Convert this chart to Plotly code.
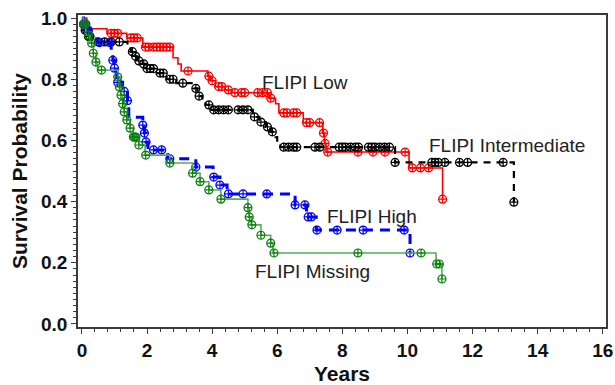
import numpy as np
import plotly.graph_objects as go

# ---------------- data ----------------
low_times = [0, 0.15, 0.77, 1.38, 1.87, 2.8, 2.95, 3.05, 3.87, 3.95, 4.1, 4.4, 4.6,
             5.75, 5.95, 6.05, 6.8, 7.4, 7.45, 7.5, 10.05, 11.08]
low_surv = [1.0, 0.965, 0.95, 0.935, 0.905, 0.87, 0.85, 0.827, 0.81, 0.795, 0.776, 0.765, 0.756,
            0.738, 0.72, 0.69, 0.658, 0.624, 0.59, 0.562, 0.51, 0.408]
low_cens = [0.9, 1.0, 1.1, 1.5, 1.6, 1.7, 1.95, 2.05, 2.2, 2.3, 2.4, 2.5, 2.6, 2.7, 3.26,
            3.9, 4.0, 4.2, 4.3, 4.5, 4.7, 4.9, 5.0, 5.4, 5.55, 5.7, 5.8, 6.2, 6.3, 6.5, 6.6,
            6.9, 7.0, 7.3, 7.42, 7.47, 7.55, 8.48, 8.94, 9.31, 9.93, 10.15, 10.4, 10.65, 11.08]

int_times = [0, 0.05, 0.1, 0.2, 0.3, 1.4, 1.5, 1.6, 1.7, 1.8, 2.0, 2.3, 2.6, 2.9, 3.45, 3.55,
             3.7, 3.8, 4.0, 5.25, 5.45, 5.65, 5.8, 5.95, 6.0, 6.1, 9.62, 13.27]
int_surv = [1.0, 0.98, 0.96, 0.94, 0.922, 0.905, 0.89, 0.875, 0.86, 0.85, 0.835, 0.82, 0.80,
            0.787, 0.77, 0.745, 0.73, 0.716, 0.70, 0.677, 0.66, 0.644, 0.628, 0.611, 0.595,
            0.578, 0.528, 0.398]
int_cens = [0.05, 0.1, 0.15, 0.2, 0.25, 0.5, 0.7, 0.9, 1.15, 1.55, 1.65, 1.75, 1.9, 2.0, 2.1,
            2.2, 2.4, 2.5, 2.7, 2.8, 3.1, 3.5, 3.6, 3.9, 4.05, 4.2, 4.35, 4.5, 4.8, 4.95, 5.1,
            5.3, 5.5, 5.7, 5.85, 6.2, 6.35, 6.5, 6.6, 7.16, 7.31, 7.9, 8.0, 8.1, 8.25, 8.4,
            8.5, 8.8, 8.9, 9.0, 9.15, 9.3, 9.45, 9.62, 10.75, 10.85, 10.95, 11.15, 11.6,
            11.85, 12.94, 13.27]

high_times = [0, 0.05, 0.15, 0.25, 0.45, 0.9, 0.95, 1.0, 1.07, 1.25, 1.4, 1.44, 1.87, 1.92,
              1.97, 2.03, 2.64, 3.5, 4.03, 4.24, 4.46, 6.55, 6.9, 7.2, 10.08]
high_surv = [1.0, 0.98, 0.96, 0.944, 0.92, 0.89, 0.862, 0.836, 0.79, 0.76, 0.73, 0.676, 0.65,
             0.624, 0.595, 0.569, 0.54, 0.513, 0.48, 0.454, 0.425, 0.389, 0.35, 0.307, 0.232]
high_cens = [0.05, 0.12, 0.2, 0.55, 0.85, 0.95, 1.0, 1.1, 1.3, 1.4, 1.87, 1.92, 1.97, 2.2,
             2.45, 2.7, 3.5, 4.05, 4.24, 4.5, 4.95, 5.68, 6.55, 6.85, 6.95, 7.05, 7.22, 7.84,
             8.64, 9.9, 10.08]

miss_times = [0, 0.05, 0.12, 0.25, 0.35, 0.43, 0.48, 1.1, 1.15, 1.2, 1.25, 1.3, 1.38, 1.48,
              1.58, 1.75, 1.94, 2.7, 3.4, 3.63, 3.9, 4.27, 5.1, 5.14, 5.2, 5.5, 5.8, 5.87,
              10.88, 11.06]
miss_surv = [1.0, 0.98, 0.944, 0.918, 0.885, 0.856, 0.83, 0.807, 0.775, 0.748, 0.72, 0.693,
             0.667, 0.64, 0.611, 0.585, 0.552, 0.526, 0.493, 0.465, 0.438, 0.408, 0.38, 0.35,
             0.324, 0.29, 0.264, 0.232, 0.196, 0.147]
miss_cens = [0.05, 0.1, 0.2, 0.3, 0.35, 0.43, 0.6, 1.1, 1.15, 1.2, 1.25, 1.3, 1.38, 1.48,
             1.58, 1.62, 1.66, 1.75, 1.96, 2.7, 3.4, 3.63, 3.9, 4.27, 5.1, 5.14, 5.22, 5.5,
             5.8, 5.9, 8.48, 10.42, 10.9, 10.98, 11.06]

labels = ["FLIPI Low", "FLIPI Intermediate", "FLIPI High", "FLIPI Missing"]
label_x = [6.85, 13.06, 8.9, 7.07]
label_y = [0.79, 0.585, 0.35, 0.17]

x_ticks = [0, 2, 4, 6, 8, 10, 12, 14, 16]
y_ticks = [0.0, 0.2, 0.4, 0.6, 0.8, 1.0]

# ---------------- figure ----------------
groups = [
    (low_times, low_surv, low_cens, "#ff0000", "#ff0000", "solid", 1.6),
    (int_times, int_surv, int_cens, "#000000", "#000000", "7px,6px", 2.2),
    (high_times, high_surv, high_cens, "#0000ff", "#0000ff", "10px,7px", 3),
    (miss_times, miss_surv, miss_cens, "#5aac5a", "#0a800a", "solid", 1.6),
]

FONT = "Liberation Sans, Arial"

fig = go.Figure()
for times, surv, cens, lcol, mcol, dash, w in groups:
    t = np.array(times, dtype=float)
    s = np.array(surv, dtype=float)
    fig.add_trace(go.Scatter(x=t, y=s, mode="lines", line_shape="hv",
                             line=dict(color=lcol, width=w, dash=dash),
                             hoverinfo="skip", showlegend=False))
    c = np.array(cens, dtype=float)
    idx = np.searchsorted(t, c, side="right") - 1
    fig.add_trace(go.Scatter(x=c, y=s[idx], mode="markers",
                             marker=dict(symbol="circle-cross-open", size=8,
                                         color=mcol, line=dict(width=1.2, color=mcol)),
                             showlegend=False))

for txt, lx, ly in zip(labels, label_x, label_y):
    fig.add_annotation(x=lx, y=ly, text=txt, showarrow=False,
                       font=dict(family=FONT, size=19, color="#222222"))

axis_common = dict(showline=True, linecolor="#3a3a3a", linewidth=1.5, mirror=True,
                   ticks="outside", ticklen=5, tickwidth=1.3, tickcolor="#3a3a3a",
                   showgrid=False, zeroline=False, automargin=False,
                   tickfont=dict(family=FONT, size=19, color="#111111", weight="bold"))

fig.update_xaxes(range=[-0.12, 16.1], tickvals=x_ticks,
                 ticktext=[str(v) for v in x_ticks],
                 minor=dict(dtick=0.4, ticks="outside", ticklen=3, tickcolor="#3a3a3a",
                            tickwidth=1),
                 title=dict(text="<b>Years</b>", standoff=9,
                            font=dict(family=FONT, size=21, color="#111111")),
                 **axis_common)
fig.update_yaxes(range=[-0.01, 1.01], tickvals=y_ticks,
                 ticktext=[f"{v:.1f}" for v in y_ticks],
                 minor=dict(dtick=0.02, ticks="outside", ticklen=3, tickcolor="#3a3a3a",
                            tickwidth=1),
                 title=dict(text="<b>Survival Probability</b>", standoff=8,
                            font=dict(family=FONT, size=21, color="#111111")),
                 **axis_common)

fig.update_layout(width=615, height=385, margin=dict(l=78, r=9, t=15, b=58),
                  plot_bgcolor="white", paper_bgcolor="white", showlegend=False)

fig.write_html("out.html", config={"displayModeBar": False},
               post_script="document.body.style.margin='0';document.body.style.padding='0';")
